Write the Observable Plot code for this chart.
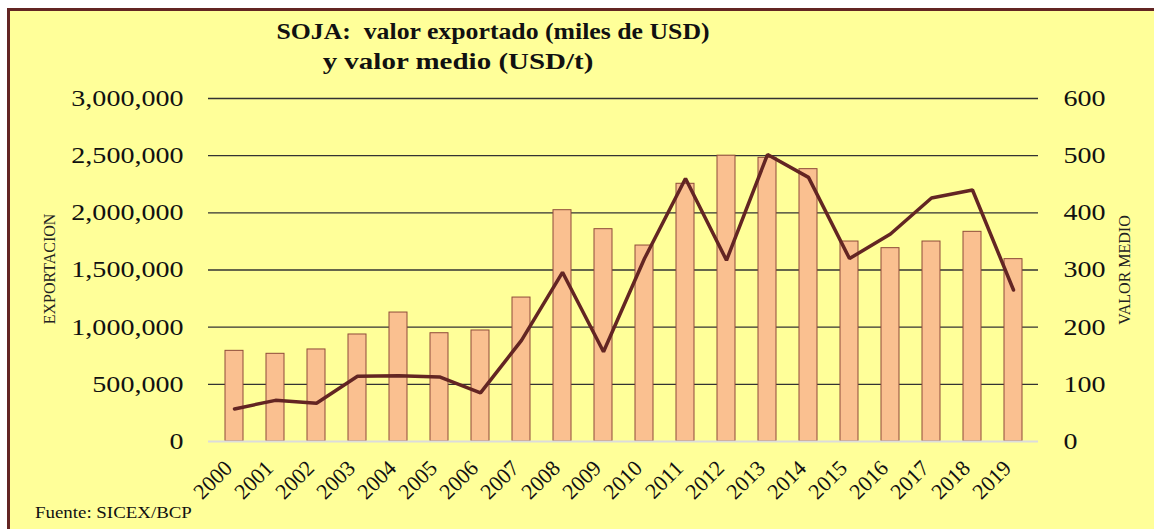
<!DOCTYPE html>
<html><head><meta charset="utf-8">
<script src="https://cdn.jsdelivr.net/npm/d3@7"></script>
<script src="https://cdn.jsdelivr.net/npm/@observablehq/plot@0.6"></script>
<style>
html,body{margin:0;padding:0;background:#fff;}
#wrap{position:relative;width:1154px;height:529px;overflow:hidden;background:#fff;font-family:"Liberation Serif","Times New Roman",serif;color:#111;}
#panel{position:absolute;left:7px;top:8px;right:-10px;bottom:-10px;background:#FFFF99;border-left:3px solid #632523;border-top:3px solid #632523;}
.t{position:absolute;white-space:pre;font-weight:bold;font-size:23px;line-height:23px;}
.ax{position:absolute;white-space:pre;font-size:16px;line-height:16px;color:#222;transform:translate(-50%,-50%) rotate(-90deg);}
#foot{position:absolute;left:35px;top:505px;font-size:16px;line-height:16px;white-space:pre;transform-origin:left center;transform:scaleX(1.18);}
#chart{position:absolute;left:0;top:80px;}
</style></head><body>
<div id="wrap">
<div id="panel"></div>
<div class="t" style="left:493px;top:20px;transform:translateX(-50%) scaleX(1.12);">SOJA:  valor exportado (miles de USD)</div>
<div class="t" style="left:458px;top:50px;transform:translateX(-50%) scaleX(1.26);">y valor medio (USD/t)</div>
<div class="ax" style="left:50px;top:269px;">EXPORTACION</div>
<div class="ax" style="left:1125px;top:270px;">VALOR MEDIO</div>
<div id="foot">Fuente: SICEX/BCP</div>
<div id="chart"></div>
</div>
<script>
const years = ["2000","2001","2002","2003","2004","2005","2006","2007","2008","2009","2010","2011","2012","2013","2014","2015","2016","2017","2018","2019"];
const exportValue = [793000, 767000, 805000, 936000, 1128000, 947000, 971000, 1259000, 2023000, 1857000, 1714000, 2254000, 2500000, 2481000, 2382000, 1749000, 1691000, 1749000, 1834000, 1595000];
const avgPrice = [57, 72, 67, 114, 115, 113, 85, 177, 296, 157, 320, 460, 317, 502, 462, 320, 363, 426, 440, 265];
const leftTicks = [0, 500000, 1000000, 1500000, 2000000, 2500000, 3000000];
const rightTicks = [0, 100, 200, 300, 400, 500, 600];
const ratio = 3000000 / 600;

const data = years.map((y, i) => ({year: y, exp: exportValue[i], price: avgPrice[i]}));

const chart = Plot.plot({
  width: 1154, height: 449,
  marginTop: 18, marginBottom: 88, marginLeft: 208, marginRight: 116,
  style: {background: "transparent", fontFamily: "'Liberation Serif', serif", fontSize: "23px", color: "#111", overflow: "visible"},
  x: {type: "band", domain: years, paddingInner: 0.57, paddingOuter: 0.285},
  y: {domain: [0, 3000000]},
  marks: [
    Plot.ruleY(leftTicks.filter(d => d > 0), {stroke: "#333", strokeWidth: 1.4}),
    Plot.barY(data, {x: "year", y: "exp", fill: "#FAC090", stroke: "#8E4B3A", strokeWidth: 1}),
    Plot.ruleY([0], {stroke: "#DCDCDC", strokeWidth: 2}),
    Plot.line(data, {x: "year", y: d => d.price * ratio, stroke: "#632523", strokeWidth: 3.5, strokeLinejoin: "miter"}),
    Plot.axisY({anchor: "left", ticks: leftTicks, tickFormat: d3.format(","), tickSize: 0, tickPadding: 25, label: null, fontSize: 23}),
    Plot.axisY({anchor: "right", ticks: rightTicks.map(v => v * ratio), tickFormat: d => String(Math.round(d / ratio)), tickSize: 0, tickPadding: 25, label: null, fontSize: 23}),
    Plot.axisX({tickRotate: -45, tickSize: 0, tickPadding: 23, dx: -6, label: null, fontSize: 22})
  ]
});
document.getElementById("chart").append(chart);
chart.querySelectorAll('g[aria-label="y-axis tick label"] text').forEach(t => {
  const L = t.getComputedTextLength();
  t.setAttribute("textLength", (L * 1.22).toFixed(1));
  t.setAttribute("lengthAdjust", "spacingAndGlyphs");
});
</script>
</body></html>
